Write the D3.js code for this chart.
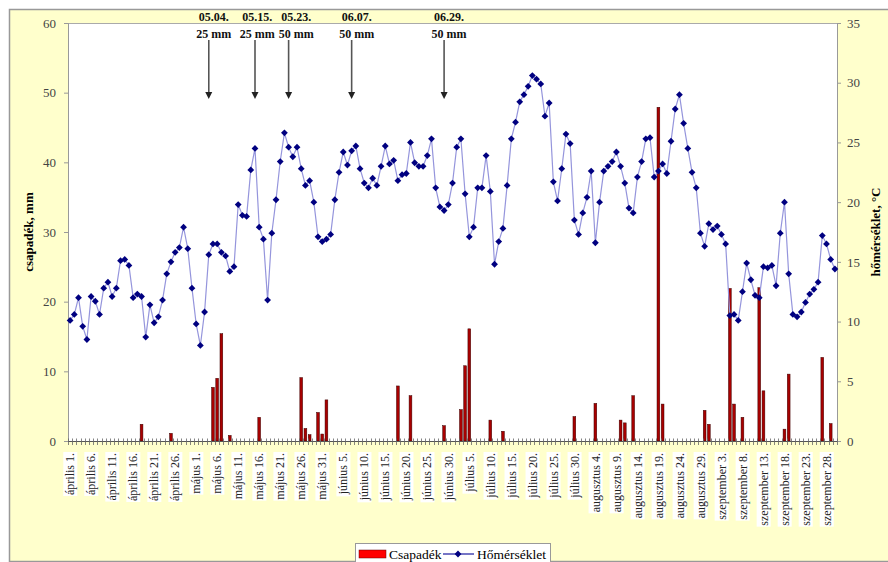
<!DOCTYPE html>
<html>
<head>
<meta charset="utf-8">
<script src="https://cdn.jsdelivr.net/npm/d3@7"></script>
<style>
  body { margin: 0; background: #fff; }
  svg { display: block; font-family: "Liberation Serif", "Times New Roman", serif; }
</style>
</head>
<body>
<svg id="chart" width="888" height="562"></svg>
<script>
(function() {
  'use strict';

  // Daily mean temperature, °C (right axis), one array per month
  const tempApr = [10.1,10.6,12.0,9.6,8.5,12.1,11.7,10.6,12.8,13.3,12.1,12.8,15.1,15.2,14.7,12.0,12.3,12.1,8.7,11.4,9.9,10.4,11.8,14.0,15.0,15.8,16.2,17.9,16.1,12.8];
  const tempMay = [9.8,8.0,10.8,15.6,16.5,16.5,15.8,15.5,14.2,14.6,19.8,18.9,18.8,22.7,24.5,17.9,16.9,11.8,17.4,20.2,23.4,25.8,24.6,23.8,24.6,22.8,21.4,21.8,20.0,17.1,16.7];
  const tempJun = [16.9,17.3,20.2,22.5,24.2,23.1,24.3,24.7,22.8,21.6,21.2,22.0,21.4,23.0,24.7,23.2,23.5,21.8,22.3,22.4,25.0,23.3,23.0,23.0,23.9,25.3,21.2,19.6,19.3,19.8];
  const tempJul = [21.6,24.6,25.3,20.7,17.1,17.9,21.2,21.2,23.9,20.9,14.8,16.7,17.8,21.4,25.3,26.7,28.4,29.0,29.7,30.6,30.3,29.9,27.2,28.3,21.7,20.1,22.8,25.7,24.9,18.5,17.3];
  const tempAug = [19.1,20.4,22.6,16.6,20.0,22.6,23.0,23.4,24.2,23.0,21.6,19.5,19.1,22.1,23.4,25.3,25.4,22.1,22.6,23.2,22.4,25.1,27.8,29.0,26.6,24.5,22.5,21.2,17.4,16.3,18.2];
  const tempSep = [17.7,18.0,17.3,16.5,10.5,10.6,10.1,12.5,14.9,13.5,12.2,12.0,14.6,14.5,14.7,13.0,17.4,20.0,14.0,10.6,10.4,10.8,11.6,12.3,12.7,13.3,17.2,16.5,15.2,14.4];

  // Daily precipitation, mm (left axis)
  const precipApr = [0,0,0,0,0,0,0,0,0,0, 0,0,0,0,0,0,0,2.4,0,0, 0,0,0,0,1.1,0,0,0,0,0];
  const precipMay = [0,0,0,0,7.7,9.0,15.4,0,0.8,0, 0,0,0,0,0,3.4,0,0,0,0, 0,0,0,0,0,9.1,1.8,0.9,0,4.1, 1.0];
  const precipJun = [5.9,0,0,0,0,0,0,0,0,0, 0,0,0,0,0,0,0,7.9,0,0, 6.5,0,0,0,0,0,0,0,2.2,0];
  const precipJul = [0,0,4.5,10.8,16.1,0,0,0,0,3.0, 0,0,1.4,0,0,0,0,0,0,0, 0,0,0,0,0,0,0,0,0,3.5, 0];
  const precipAug = [0,0,0,5.4,0,0,0,0,0,3.0, 2.6,0,6.5,0,0,0,0,0,47.9,5.3, 0,0,0,0,0,0,0,0,0,4.4, 2.4];
  const precipSep = [0,0,0,0,21.9,5.3,0,3.4,0,0, 0,22.0,7.2,0,0,0,0,1.7,9.6,0, 0,0,0,0,0,0,12.0,0,2.5,0];

  // Category labels shown every 5th day
  const xTickLabels = ['április 1.','április 6.','április 11.','április 16.','április 21.','április 26.',
    'május 1.','május 6.','május 11.','május 16.','május 21.','május 26.','május 31.',
    'június 5.','június 10.','június 15.','június 20.','június 25.','június 30.',
    'július 5.','július 10.','július 15.','július 20.','július 25.','július 30.',
    'augusztus 4.','augusztus 9.','augusztus 14.','augusztus 19.','augusztus 24.','augusztus 29.',
    'szeptember 3.','szeptember 8.','szeptember 13.','szeptember 18.','szeptember 23.','szeptember 28.'];
  const leftTicks = [0,10,20,30,40,50,60];
  const rightTicks = [0,5,10,15,20,25,30,35];

  // Irrigation annotations
  const irrigMonth = [5,5,5,6,6];
  const irrigDay = [4,15,23,7,29];
  const irrigDate = ['05.04.','05.15.','05.23.','06.07.','06.29.'];
  const irrigAmount = ['25 mm','25 mm','50 mm','50 mm','50 mm'];

  const temps = [].concat(tempApr, tempMay, tempJun, tempJul, tempAug, tempSep);
  const precip = [].concat(precipApr, precipMay, precipJun, precipJul, precipAug, precipSep);
  const days = d3.range(temps.length);
  const monthStart = { 4: 0, 5: 30, 6: 61, 7: 91, 8: 122, 9: 153 };

  const svg = d3.select('#chart');
  const plot = { left: 68, right: 837, top: 23, bottom: 441 };

  // chart area
  svg.append('rect')
    .attr('x', 9.5).attr('y', 9.5).attr('width', 900).attr('height', 552)
    .attr('fill', '#FFFFCC').attr('stroke', '#999').attr('stroke-width', 1.5);

  svg.append('rect')
    .attr('x', plot.left).attr('y', plot.top)
    .attr('width', plot.right - plot.left).attr('height', plot.bottom - plot.top)
    .attr('fill', '#fff');

  const x = d3.scaleBand().domain(days).range([plot.left, plot.right]).padding(0);
  const yL = d3.scaleLinear().domain([0, 60]).range([plot.bottom, plot.top]);
  const yR = d3.scaleLinear().domain([0, 35]).range([plot.bottom, plot.top]);
  const cx = i => x(i) + x.bandwidth() / 2;

  // top border of plot
  svg.append('line')
    .attr('x1', plot.left).attr('x2', plot.right)
    .attr('y1', plot.top + 0.5).attr('y2', plot.top + 0.5)
    .attr('stroke', '#aaa');

  // left axis
  const gl = svg.append('g')
    .attr('transform', `translate(${plot.left},0)`)
    .call(d3.axisLeft(yL).tickValues(leftTicks).tickSize(4).tickPadding(8));
  // right axis
  const gr = svg.append('g')
    .attr('transform', `translate(${plot.right},0)`)
    .call(d3.axisRight(yR).tickValues(rightTicks).tickSize(4).tickPadding(6));
  [gl, gr].forEach(g => {
    g.select('.domain').attr('stroke', '#999');
    g.selectAll('.tick line').attr('stroke', '#999');
    g.selectAll('.tick text')
      .attr('font-family', '"Liberation Serif", serif')
      .attr('font-size', 13).attr('fill', '#444');
  });

  // bars
  const barW = x.bandwidth() * 0.66;
  svg.append('g').selectAll('rect')
    .data(days.filter(d => precip[d] > 0))
    .join('rect')
    .attr('x', d => cx(d) - barW / 2)
    .attr('y', d => yL(precip[d]))
    .attr('width', barW)
    .attr('height', d => yL(0) - yL(precip[d]))
    .attr('fill', '#a80000')
    .attr('stroke', '#3a0000')
    .attr('stroke-width', 0.5);

  // x axis line + day ticks
  svg.append('line')
    .attr('x1', plot.left).attr('x2', plot.right)
    .attr('y1', plot.bottom + 0.5).attr('y2', plot.bottom + 0.5)
    .attr('stroke', '#555');
  svg.append('g').selectAll('line')
    .data(d3.range(days.length + 1))
    .join('line')
    .attr('x1', d => Math.round(d < days.length ? x(d) : plot.right) + 0.5)
    .attr('x2', d => Math.round(d < days.length ? x(d) : plot.right) + 0.5)
    .attr('y1', plot.bottom - 2.5).attr('y2', plot.bottom + 4)
    .attr('stroke', '#666').attr('stroke-width', 0.8);

  // x labels with white boxes
  xTickLabels.forEach((label, k) => {
    const g = svg.append('g')
      .attr('transform', `translate(${cx(k * 5)},${plot.bottom + 12}) rotate(-90)`);
    const t = g.append('text')
      .attr('text-anchor', 'end')
      .attr('dy', '0.35em')
      .attr('font-size', 12)
      .attr('fill', '#222')
      .text(label);
    const bb = t.node().getBBox();
    g.insert('rect', 'text')
      .attr('x', bb.x - 1).attr('y', bb.y)
      .attr('width', bb.width + 2).attr('height', bb.height)
      .attr('fill', '#fff');
  });

  // temperature line
  const line = d3.line().x(d => cx(d)).y(d => yR(temps[d]));
  svg.append('path')
    .datum(days)
    .attr('d', line)
    .attr('fill', 'none')
    .attr('stroke', '#9595dc')
    .attr('stroke-width', 1.2);
  const dm = 3.4;
  const diamond = `M0,${-dm}L${dm},0L0,${dm}L${-dm},0Z`;
  svg.append('g').selectAll('path')
    .data(days)
    .join('path')
    .attr('d', diamond)
    .attr('transform', d => `translate(${cx(d)},${yR(temps[d])})`)
    .attr('fill', '#000080');

  // irrigation arrows; the text blocks sit a little right of the arrow
  // and get pushed apart when two neighbours would collide
  const notes = irrigDate.map((label, i) => {
    const ax = cx(monthStart[irrigMonth[i]] + irrigDay[i] - 1);
    const g = svg.append('g').attr('font-weight', 'bold').attr('font-size', 12).attr('fill', '#111');
    const t1 = g.append('text').attr('y', 21).attr('text-anchor', 'middle').text(label);
    const t2 = g.append('text').attr('y', 37.5).attr('text-anchor', 'middle').text(irrigAmount[i]);
    const w = Math.max(t1.node().getComputedTextLength(), t2.node().getComputedTextLength());
    g.append('line')
      .attr('x1', ax).attr('x2', ax).attr('y1', 40).attr('y2', 93)
      .attr('stroke', '#555').attr('stroke-width', 1.6);
    g.append('path')
      .attr('d', `M${ax - 3.5},92L${ax + 3.5},92L${ax},99Z`)
      .attr('fill', '#222');
    return { t1, t2, w, c: ax + 5 };
  });
  for (let i = 1; i < notes.length; i++) {
    const a = notes[i - 1], b = notes[i];
    const overlap = (a.c + a.w / 2 + 4) - (b.c - b.w / 2);
    if (overlap > 0) { a.c -= overlap / 2; b.c += overlap / 2; }
  }
  notes.forEach(n => { n.t1.attr('x', n.c); n.t2.attr('x', n.c); });

  // axis titles
  svg.append('text')
    .attr('transform', `translate(33,${(plot.top + plot.bottom) / 2}) rotate(-90)`)
    .attr('text-anchor', 'middle')
    .attr('font-weight', 'bold').attr('font-size', 13)
    .text('csapadék, mm');
  svg.append('text')
    .attr('transform', `translate(880,${(plot.top + plot.bottom) / 2}) rotate(-90)`)
    .attr('text-anchor', 'middle')
    .attr('font-weight', 'bold').attr('font-size', 13)
    .text('hőmérséklet, °C');

  // legend
  const lg = svg.append('g');
  lg.append('rect')
    .attr('x', 355.5).attr('y', 543.5).attr('width', 195).attr('height', 30)
    .attr('fill', '#fff').attr('stroke', '#999');
  lg.append('rect')
    .attr('x', 359).attr('y', 550).attr('width', 27).attr('height', 8)
    .attr('fill', '#ff0000').attr('stroke', '#600').attr('stroke-width', 0.5);
  lg.append('text').attr('x', 389).attr('y', 559).attr('font-size', 13.5).text('Csapadék');
  lg.append('line')
    .attr('x1', 443).attr('x2', 474).attr('y1', 554).attr('y2', 554)
    .attr('stroke', '#2a2aa8').attr('stroke-width', 1.3);
  lg.append('path')
    .attr('d', diamond)
    .attr('transform', 'translate(458,554)')
    .attr('fill', '#000080');
  lg.append('text').attr('x', 477).attr('y', 559).attr('font-size', 13.5).text('Hőmérséklet');
})();
</script>
</body>
</html>
